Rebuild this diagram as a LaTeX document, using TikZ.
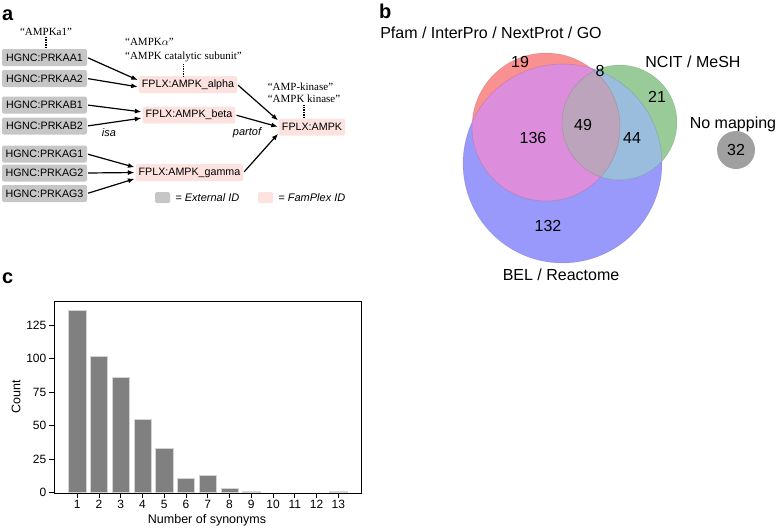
\documentclass[tikz,border=0pt]{standalone}
\usepackage{fontspec}
\setmainfont{Liberation Sans}
\newfontfamily\quotefont{Liberation Serif}
\usetikzlibrary{arrows.meta,positioning}
\definecolor{extgray}{HTML}{C6C6C6}
\definecolor{fplxpink}{HTML}{FCE3E0}
\definecolor{aonly}{HTML}{F8918F}
\definecolor{bonly}{HTML}{9999FB}
\definecolor{conly}{HTML}{98CB98}
\definecolor{abreg}{HTML}{DC8EDC}
\definecolor{bcreg}{HTML}{9ABCDD}
\definecolor{acreg}{HTML}{C8AF93}
\definecolor{abcreg}{HTML}{BCA5BC}
\definecolor{nomap}{HTML}{A0A0A0}
\definecolor{bargray}{HTML}{808080}
\definecolor{baredge}{HTML}{D4D4D4}
\newcommand\fsa{\fontsize{10.7}{12}\selectfont}
\newcommand\fsc{\fontsize{12}{14}\selectfont}
\tikzset{
  extid/.style={fill=extgray, rounded corners=2pt, minimum width=85pt, minimum height=17pt, inner sep=0pt, font=\fsa},
  fplx/.style={fill=fplxpink, rounded corners=1.5pt, minimum height=17pt, inner xsep=3pt, inner ysep=0pt, font=\fsa},
  ar/.style={-{Latex[length=6.5pt,width=5pt]}, line width=1.2pt, shorten <=1pt, shorten >=1pt},
  syn/.style={font=\quotefont\fontsize{11}{14}\selectfont, align=left, inner sep=0pt},
  syndot/.style={line width=1.6pt, dash pattern=on 1.4pt off 1pt},
  rel/.style={font=\itshape\fontsize{11}{13}\selectfont, inner sep=0pt},
  panel/.style={font=\bfseries\fontsize{20}{22}\selectfont, anchor=base west, inner sep=0pt},
  venntxt/.style={font=\fontsize{16}{18}\selectfont, inner sep=0pt},
  ticklbl/.style={font=\fsc, inner sep=0pt},
}

\begin{document}
\begin{tikzpicture}[x=1pt,y=-1pt]
  \useasboundingbox (0,0) rectangle (777,528);
  % panel a
  \node[panel] (lbla) at (2,20) {a};
  \foreach \nm/\id/\y in {aa1/PRKAA1/57.5, aa2/PRKAA2/78.5, ab1/PRKAB1/105, ab2/PRKAB2/126,
                          ag1/PRKAG1/154, ag2/PRKAG2/173, ag3/PRKAG3/193.5}{
    \node[extid] (\nm) at (44.5,\y) {HGNC:\id};
  }
  \node[fplx] (alpha) at (188,84.5) {FPLX:AMPK\_alpha};
  \node[fplx] (beta) at (189,115) {FPLX:AMPK\_beta};
  \node[fplx] (gamma) at (189.5,172.5) {FPLX:AMPK\_gamma};
  \node[fplx] (ampk) at (312,127) {FPLX:AMPK};

  \node[syn] (synaa1) at (46,32) {“AMPKa1”};
  \node[syn] (synalpha) at (183.5,50) {“AMPK$\alpha$”\\“AMPK catalytic subunit”};
  \node[syn, font=\quotefont\fontsize{11}{12}\selectfont] (synampk) at (304,93) {“AMP-kinase”\\“AMPK kinase”};
  \draw[syndot] ([yshift=-1pt]synaa1.south) -- (synaa1.south |- aa1.north);
  \draw[syndot] ([yshift=-1.5pt]synalpha.south) -- (synalpha.south |- alpha.north);
  \draw[syndot] ([yshift=-1.5pt]synampk.south) -- (synampk.south |- ampk.north);

  \draw[ar] (aa1.east) -- ([yshift=4pt]alpha.west);
  \draw[ar] (aa2.east) -- ([yshift=-2.5pt]alpha.west);
  \draw[ar] (ab1.east) -- ([yshift=3pt]beta.west);
  \draw[ar] (ab2.east) -- ([yshift=-3pt]beta.west);
  \draw[ar] (ag1.east) -- ([yshift=5pt]gamma.west);
  \draw[ar] (ag2.east) -- (gamma.west);
  \draw[ar] (ag3.east) -- ([yshift=-6pt]gamma.west);
  \draw[ar] (alpha.east) -- ([yshift=6pt]ampk.west);
  \draw[ar] (beta.east) -- (ampk.west);
  \draw[ar] (gamma.east) -- ([yshift=-6pt]ampk.west);

  \node[rel] (isa) at (109,133) {isa};
  \node[rel] (partof) at (247,133) {partof};

  \node[fill=extgray, rounded corners=1.5pt, minimum width=15pt, minimum height=11pt, inner sep=0pt] (legext) at (162.5,197.5) {};
  \node[rel, anchor=west] (legexttxt) at ([xshift=5pt]legext.east) {= External ID};
  \node[fill=fplxpink, rounded corners=1.5pt, minimum width=15pt, minimum height=11pt, inner sep=0pt] (legfam) at (265.5,197.5) {};
  \node[rel, anchor=west] (legfamtxt) at ([xshift=5pt]legfam.east) {= FamPlex ID};

  % panel b
  \node[panel] (lblb) at (379,18) {b};
  \coordinate (pfamc) at (546,127);
  \coordinate (belc) at (562.5,163.5);
  \coordinate (ncitc) at (619.5,122.5);
  \fill[bonly] (belc) circle (99.5);
  \fill[aonly] (pfamc) circle (74);
  \fill[conly] (ncitc) circle (57.5);
  \begin{scope}
    \clip (belc) circle (99.5);
    \fill[bcreg] (ncitc) circle (57.5);
  \end{scope}
  \begin{scope}
    \clip (pfamc) circle (74);
    \fill[abreg] (belc) circle (99.5);
    \fill[acreg] (ncitc) circle (57.5);
  \end{scope}
  \begin{scope}
    \clip (pfamc) circle (74);
    \clip (belc) circle (99.5);
    \fill[abcreg] (ncitc) circle (57.5);
  \end{scope}
  \draw[black, opacity=.12, line width=.5pt] (pfamc) circle (74) (belc) circle (99.5) (ncitc) circle (57.5);

  \node[venntxt] (pfamlbl) at (491,33) {Pfam / InterPro / NextProt / GO};
  \node[venntxt] (ncitlbl) at (693,62) {NCIT / MeSH};
  \node[venntxt] (bellbl) at (561,275) {BEL / Reactome};
  \node[venntxt] (nomaplbl) at (733,124) {No mapping};
  \node[venntxt] (n19) at (520,62) {19};
  \node[venntxt] (n8) at (600,71) {8};
  \node[venntxt] (n21) at (657,97) {21};
  \node[venntxt] (n49) at (583,125) {49};
  \node[venntxt] (n136) at (533,138) {136};
  \node[venntxt] (n44) at (632,138) {44};
  \node[venntxt] (n132) at (548,226) {132};
  \fill[nomap] (736,150) circle (19);
  \node[venntxt] (n32) at (736,150) {32};

  % panel c
  \node[panel] (lblc) at (2,283) {c};
  \foreach \x/\cnt in {1/136,2/102,3/86,4/55,5/33,6/11,7/13,8/3,9/1,10/0,11/0,12/0,13/1}{
    \ifnum\cnt>0
      \filldraw[fill=bargray, draw=baredge, line width=.6pt]
        ({77.3+(\x-1)*21.75-8.7},492.7) rectangle ({77.3+(\x-1)*21.75+8.7},{492.7-\cnt*1.3416});
    \fi
    \draw[line width=.8pt] ({77.3+(\x-1)*21.75},493) -- ({77.3+(\x-1)*21.75},498);
    \node[ticklbl, anchor=north] (xt\x) at ({77.3+(\x-1)*21.75},500) {\x};
  }
  \foreach \t in {0,25,50,75,100,125}{
    \draw[line width=.8pt] (49,{492.7-\t*1.3416}) -- (54,{492.7-\t*1.3416});
    \node[ticklbl, anchor=east] (yt\t) at (46.5,{492.7-\t*1.3416}) {\t};
  }
  \draw[line width=1pt] (54,301) rectangle (361,493);
  \node[ticklbl, font=\fontsize{12.5}{14}\selectfont] (xlbl) at (207,520) {Number of synonyms};
  \node[ticklbl, font=\fontsize{12.5}{14}\selectfont, rotate=90] (ylbl) at (16,397) {Count};
\end{tikzpicture}
\end{document}
